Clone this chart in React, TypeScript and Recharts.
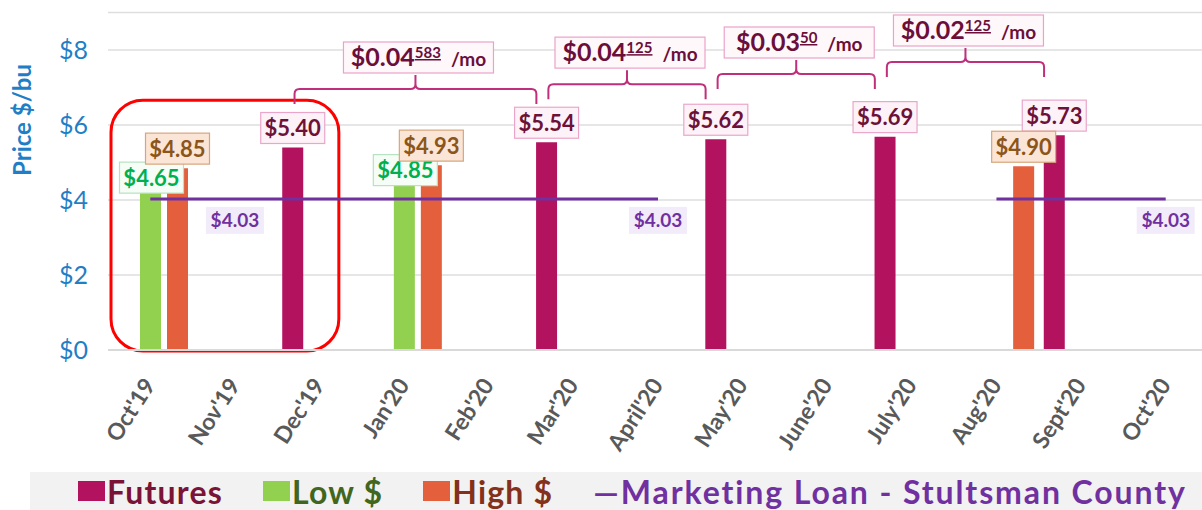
import React from "react";
import {
  Bar,
  CartesianGrid,
  ComposedChart,
  LabelList,
  Legend,
  Line,
  ReferenceArea,
  ReferenceLine,
  XAxis,
  YAxis,
} from "recharts";

const FONT = "Lato, 'DejaVu Sans', sans-serif";

// chart values
const months = ["Oct'19", "Nov'19", "Dec'19", "Jan'20", "Feb'20", "Mar'20", "April'20", "May'20", "June'20", "July'20", "Aug'20", "Sept'20", "Oct'20"];
const futures = [null, null, 5.4, null, null, 5.54, null, 5.62, null, 5.69, null, 5.73, null];
const lowPrice = [4.65, null, null, 4.85, null, null, null, null, null, null, null, null, null];
const highPrice = [4.85, null, null, 4.93, null, null, null, null, null, null, 4.9, null, null];
const marketingLoan = [4.03, 4.03, 4.03, 4.03, 4.03, 4.03, 4.03, null, null, null, 4.03, 4.03, 4.03];
const loanLabelMonths = ["Nov'19", "April'20", "Oct'20"];
const yTicks = [0, 2, 4, 6, 8];

// monthly carry between futures contracts
const carryFrom = ["Dec'19", "Mar'20", "May'20", "July'20"];
const carryTo = ["Mar'20", "May'20", "July'20", "Sept'20"];
const carryWhole = ["$0.04", "$0.04", "$0.03", "$0.02"];
const carryFrac = ["583", "125", "50", "125"];
const carryLevel = [6.96, 7.09, 7.36, 7.68];

const legendNames = ["Futures", "Low $", "High $", "Marketing Loan - Stultsman County"];

const BAR_SIZE = 21;
const BAR_GAP = 6;

const COLORS = {
  futures: "#b3125f",
  low: "#92d050",
  high: "#e4603c",
  loan: "#7030a0",
  axisText: "#1f7fc6",
  tickText: "#595959",
};

const data = months.map((month, i) => ({
  month,
  futures: futures[i],
  low: lowPrice[i],
  high: highPrice[i],
  loan: marketingLoan[i],
}));

function priceBox(fill: string, stroke: string, textColor: string, mode: "above" | "center") {
  return (props: any) => {
    const { x, y, width, value } = props;
    if (value == null) return null;
    const cx = x + width / 2 + (mode === "center" ? 1 : 0);
    const w = 64;
    const h = 31;
    const top = mode === "above" ? y - 4 - h : y + 2 - h / 2;
    return (
      <g>
        <rect x={cx - w / 2} y={top} width={w} height={h} fill={fill} stroke={stroke} strokeWidth={1.2} />
        <text x={cx} y={top + h / 2 + 8} textAnchor="middle" fill={textColor} fontSize={22} fontWeight={700} fontFamily={FONT}>
          ${Number(value).toFixed(2)}
        </text>
      </g>
    );
  };
}

function LoanLabel(props: any) {
  const { x, y, index, value } = props;
  if (value == null || !loanLabelMonths.includes(months[index])) return null;
  const w = 58;
  const h = 27;
  return (
    <g>
      <rect x={x - w / 2} y={y + 8} width={w} height={h} fill="#f2ecfa" />
      <text x={x} y={y + 8 + 20} textAnchor="middle" fill={COLORS.loan} fontSize={19} fontWeight={700} fontFamily={FONT}>
        ${Number(value).toFixed(2)}
      </text>
    </g>
  );
}

function carryBrace(i: number) {
  return (props: any) => {
    const shift = -(BAR_SIZE + BAR_GAP);
    const xa = props.x1 + shift + 2;
    const xb = props.x2 + shift - 10;
    const yh = props.y1;
    const xm = (xa + xb) / 2;
    const d = `M${xa},${yh + 15} L${xa},${yh + 5} Q${xa},${yh} ${xa + 5},${yh} L${xm - 5},${yh} Q${xm},${yh} ${xm},${yh - 5} L${xm},${yh - 14} M${xm},${yh - 5} Q${xm},${yh} ${xm + 5},${yh} L${xb - 5},${yh} Q${xb},${yh} ${xb},${yh + 5} L${xb},${yh + 15}`;
    const bw = 150;
    const bh = 31;
    const bx = xm + 3 - bw / 2;
    const by = yh - 16 - bh;
    return (
      <g>
        <path d={d} fill="none" stroke="#c02f7c" strokeWidth={2} />
        <rect x={bx} y={by} width={bw} height={bh} fill="#fff8fb" stroke="#eaa3c8" strokeWidth={1.2} />
        <text x={bx + bw / 2} y={by + 24} textAnchor="middle" fill="#6b0f3a" fontFamily={FONT} fontWeight={700}>
          <tspan fontSize={25}>{carryWhole[i]}</tspan>
          <tspan fontSize={15} dy={-8} style={{ textDecoration: "underline" }}>
            {carryFrac[i]}
          </tspan>
          <tspan fontSize={19} dy={8} dx={10}>
            /mo
          </tspan>
        </text>
      </g>
    );
  };
}

function HighlightBox(props: any) {
  const { x, y, width, height } = props;
  return <rect x={x + 3} y={y} width={width - 26} height={height + 1} rx={32} fill="none" stroke="#ff0000" strokeWidth={3} />;
}

function MonthTick(props: any) {
  const { x, y, payload } = props;
  return (
    <text transform={`translate(${x + 6},${y + 33}) rotate(-57)`} textAnchor="end" fill={COLORS.tickText} fontSize={23} fontWeight={700} fontFamily={FONT}>
      {payload.value}
    </text>
  );
}

function LegendBand() {
  const swatches = [COLORS.futures, COLORS.low, COLORS.high, null];
  const textColors = ["#7a1335", "#41661c", "#84301a", COLORS.loan];
  return (
    <div
      style={{
        height: 38,
        width: 1180,
        background: "#f2f2f2",
        display: "flex",
        alignItems: "center",
        paddingLeft: 48,
        boxSizing: "border-box",
        fontFamily: FONT,
        fontWeight: 700,
        fontSize: 32,
        whiteSpace: "nowrap",
      }}
    >
      {legendNames.map((name, i) => (
        <span
          key={name}
          style={{ display: "flex", alignItems: "center", marginRight: 40, color: textColors[i], letterSpacing: swatches[i] ? 1.2 : 1.9 }}
        >
          {swatches[i] ? <span style={{ width: 27, height: 20, background: swatches[i] as string, marginRight: 2 }} /> : "—"}
          {name}
        </span>
      ))}
    </div>
  );
}

export default function App() {
  return (
    <div style={{ position: "absolute", left: 0, top: 0, width: 1202, height: 510, overflow: "hidden", background: "#fff" }}>
      <ComposedChart
        width={1210}
        height={510}
        data={data}
        margin={{ top: 12.5, right: 2, bottom: 0, left: 8 }}
        barSize={BAR_SIZE}
        barGap={BAR_GAP}
      >
        <CartesianGrid vertical={false} stroke="#dedede" strokeWidth={1.5} />
        <XAxis
          dataKey="month"
          interval={0}
          height={122}
          tickLine={false}
          tickSize={0}
          axisLine={{ stroke: "#d9d9d9", strokeWidth: 2 }}
          tick={<MonthTick />}
        />
        <YAxis
          domain={[0, 9]}
          ticks={yTicks}
          width={100}
          tickLine={false}
          tickSize={0}
          tickMargin={20}
          axisLine={false}
          tickFormatter={(v: number) => `$${v}`}
          tick={{ fill: COLORS.axisText, fontSize: 25, fontFamily: FONT }}
          label={{
            content: () => (
              <text transform="translate(31,120) rotate(-90)" textAnchor="middle" fill={COLORS.axisText} fontSize={24} fontWeight={700} fontFamily={FONT}>
                Price $/bu
              </text>
            ),
          }}
        />
        <Legend verticalAlign="bottom" height={38} wrapperStyle={{ left: 30, bottom: 0, width: 1180 }} content={() => <LegendBand />} />
        <Bar dataKey="futures" fill={COLORS.futures} isAnimationActive={false}>
          <LabelList dataKey="futures" content={priceBox("#fdf2f7", "#eaa6c9", "#6d1138", "above")} />
        </Bar>
        <Bar dataKey="low" fill={COLORS.low} isAnimationActive={false}>
          <LabelList dataKey="low" content={priceBox("#f6fdf7", "#b5e3c1", "#00b050", "center")} />
        </Bar>
        <Bar dataKey="high" fill={COLORS.high} isAnimationActive={false}>
          <LabelList dataKey="high" content={priceBox("#fbe5d6", "#d6a67d", "#8c5519", "above")} />
        </Bar>
        <Line dataKey="loan" stroke={COLORS.loan} strokeWidth={3} dot={false} type="linear" isAnimationActive={false}>
          <LabelList dataKey="loan" content={<LoanLabel />} />
        </Line>
        <ReferenceArea x1="Oct'19" x2="Dec'19" y1={0} y2={6.66} ifOverflow="visible" shape={<HighlightBox />} />
        {carryFrom.map((from, i) => (
          <ReferenceLine
            key={from}
            segment={[
              { x: from, y: carryLevel[i] },
              { x: carryTo[i], y: carryLevel[i] },
            ]}
            ifOverflow="visible"
            shape={carryBrace(i)}
          />
        ))}
      </ComposedChart>
    </div>
  );
}
